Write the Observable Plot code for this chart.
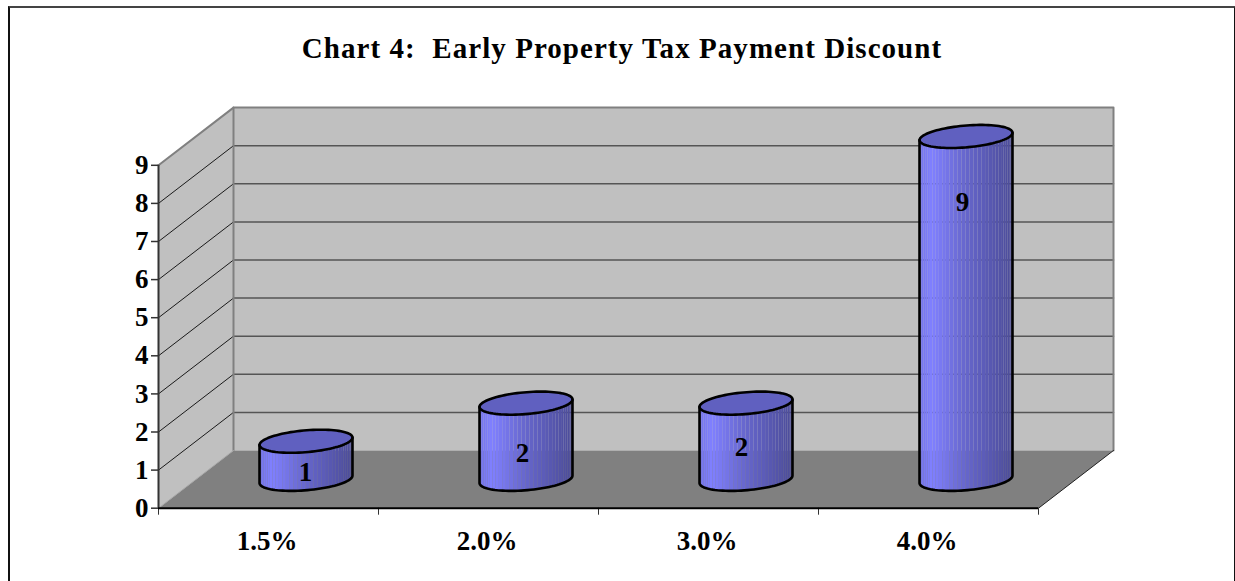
<!DOCTYPE html>
<html>
<head>
<meta charset="utf-8">
<script src="https://cdn.jsdelivr.net/npm/d3@7"></script>
<script src="https://cdn.jsdelivr.net/npm/@observablehq/plot@0.6"></script>
<style>
  html, body { margin: 0; padding: 0; background: #fff; width: 1235px; height: 581px; overflow: hidden; }
  #frame { position: absolute; left: 8px; top: 6px; width: 1224px; height: 580px; border: 2px solid #111; border-top-color: #444; border-bottom: none; }
  #title { position: absolute; left: 0; top: 32px; width: 1244px; text-align: center;
           font: bold 29px "Liberation Serif", serif; letter-spacing: 1.05px; color: #000; white-space: pre; }
  #chart { position: absolute; left: 0; top: 0; }
  #chart svg { background: transparent; }
</style>
</head>
<body>
<div id="frame"></div>
<div id="title">Chart 4:  Early Property Tax Payment Discount</div>
<div id="chart"></div>
<script>
// Chart data
const categories = ["1.5%", "2.0%", "3.0%", "4.0%"];
const values = [1, 2, 2, 9];
const valueTicks = [0, 1, 2, 3, 4, 5, 6, 7, 8, 9];

// Where each value label sits, in chart units (reference places them by hand)
const labelSlot = [0.668, 1.655, 2.65, 3.655];
const labelLevel = [0.95, 1.45, 1.59, 8.03];

// Oblique projection of the chart's depth axis onto the x and y scales
const depthX = 75 / 220;
const depthY = 57.7 / 38.1;
const radius = 0.2;
const catMax = categories.length;
const valMax = d3.max(valueTicks);

const project = (c, v, d) => ({x: c + d * depthX, y: v + d * depthY});
const poly = (id, pts) => pts.map(([c, v, d]) => ({id, ...project(c, v, d)}));

// Walls and floor
const sideWall = poly("side", [[0, 0, 0], [0, valMax, 0], [0, valMax, 1], [0, 0, 1]]);
const backWall = poly("back", [[0, 0, 1], [0, valMax, 1], [catMax, valMax, 1], [catMax, 0, 1]]);
const floor = poly("floor", [[0, 0, 0], [0, 0, 1], [catMax, 0, 1], [catMax, 0, 0]]);
const floorEdge = poly("edge", [[catMax, 0, 0], [catMax, 0, 1]]);
const gridTicks = valueTicks.filter(v => v > 0 && v < valMax);
const backGrid = gridTicks.flatMap(v => poly(v, [[0, v, 1], [catMax, v, 1]]));
const sideGrid = gridTicks.flatMap(v => poly(v, [[0, v, 0], [0, v, 1]]));

// Cylinders
const rim = (i, v, t) => project(i + 0.5 + radius * Math.cos(t), v, 0.5 + radius * Math.sin(t));
const t0 = Math.atan2(depthX * radius * 220, radius * 220);
const shade = d3.scaleLinear().domain([0, 0.14, 0.5, 1])
  .range(["#7474ea", "#8080ff", "#6666cc", "#4c4c99"]);
const STRIPS = 36;

const bodies = [], tops = [], outlines = [];
values.forEach((v, i) => {
  const leftX = rim(i, 0, t0 - Math.PI).x, rightX = rim(i, 0, t0).x;
  for (let s = 0; s < STRIPS; s++) {
    const a = t0 - Math.PI * s / STRIPS;
    const b = t0 - Math.PI * (s + 1) / STRIPS;
    const bot = [a, b].map(t => rim(i, 0, t));
    const top = [a, b].map(t => rim(i, v, t));
    const color = shade(((bot[0].x + bot[1].x) / 2 - leftX) / (rightX - leftX));
    [1, 0].forEach(k => bodies.push({strip: `${i}-${s}`, x: bot[k].x, y1: bot[k].y, y2: top[k].y, color}));
  }
  const ring = [];
  for (let k = 0; k <= 90; k++) ring.push({id: i, ...rim(i, v, 2 * Math.PI * k / 90)});
  tops.push(...ring);
  const outline = [rim(i, v, t0 - Math.PI)];
  for (let k = 0; k <= 45; k++) outline.push(rim(i, 0, t0 - Math.PI + Math.PI * k / 45));
  outline.push(rim(i, v, t0));
  outlines.push(...outline.map(p => ({id: i, ...p})));
});

const labels = values.map((v, i) => ({x: labelSlot[i], y: labelLevel[i], text: String(v)}));

const font = {fontSize: 27, fontWeight: "bold", fill: "#000"};

const plot = Plot.plot({
  width: 1235,
  height: 581,
  marginLeft: 158,
  marginRight: 122,
  marginTop: 107.1,
  marginBottom: 73.3,
  x: {domain: [0, catMax + depthX], axis: null},
  y: {domain: [0, valMax + depthY], axis: null},
  style: {fontFamily: "Liberation Serif, serif", background: "transparent", overflow: "visible"},
  marks: [
    // Walls
    Plot.line(sideWall, {x: "x", y: "y", z: "id", fill: "#c0c0c0", stroke: "none"}),
    Plot.line(backWall, {x: "x", y: "y", z: "id", fill: "#c0c0c0", stroke: "none"}),
    // Gridlines
    Plot.line(sideGrid, {x: "x", y: "y", z: "id", stroke: "#1a1a1a", strokeWidth: 1}),
    Plot.line(backGrid, {x: "x", y: "y", z: "id", stroke: "#555", strokeWidth: 1.5}),
    // Wall outlines
    Plot.line(poly("o1", [[0, 0, 1], [0, valMax, 1], [catMax, valMax, 1], [catMax, 0, 1]]),
      {x: "x", y: "y", z: "id", stroke: "#808080", strokeWidth: 2}),
    Plot.line(poly("o2", [[0, valMax, 0], [0, valMax, 1]]),
      {x: "x", y: "y", z: "id", stroke: "#808080", strokeWidth: 2}),
    // Floor
    Plot.line(floor, {x: "x", y: "y", z: "id", fill: "#808080", stroke: "none"}),
    Plot.line(poly("o4", [[0, 0, 0], [0, 0, 1]]),
      {x: "x", y: "y", z: "id", stroke: "#a8a8a8", strokeWidth: 1}),
    Plot.line(floorEdge, {x: "x", y: "y", z: "id", stroke: "#222", strokeWidth: 1}),
    // Axes
    Plot.axisY({ticks: valueTicks, anchor: "left", tickSize: 7, tickPadding: 3, label: null,
      tickFormat: d => String(d), stroke: "#333", strokeWidth: 1.5, ...font}),
    Plot.axisX({ticks: d3.range(catMax + 1), anchor: "bottom", tickSize: 7, tickFormat: () => "", label: null,
      stroke: "#333", strokeWidth: 1}),
    Plot.axisX({ticks: categories.map((_, i) => i + 0.5), anchor: "bottom", tickSize: 0, tickPadding: 23, label: null, dx: -1.5,
      tickFormat: d => categories[Math.floor(d)], ...font}),
    Plot.ruleX([0], {y1: 0, y2: valMax, stroke: "#333", strokeWidth: 2}),
    Plot.ruleY([0], {x1: 0, x2: catMax, stroke: "#000", strokeWidth: 2}),
    // Cylinders
    Plot.areaY(bodies, {x: "x", y1: "y1", y2: "y2", z: "strip", fill: "color", curve: "linear"}),
    Plot.line(tops, {x: "x", y: "y", z: "id", fill: "#6060c0", stroke: "#000", strokeWidth: 2.6}),
    Plot.line(outlines, {x: "x", y: "y", z: "id", stroke: "#000", strokeWidth: 2.6}),
    // Value labels
    Plot.text(labels, {x: "x", y: "y", text: "text", ...font})
  ]
});
document.getElementById("chart").appendChild(plot);
</script>
</body>
</html>
